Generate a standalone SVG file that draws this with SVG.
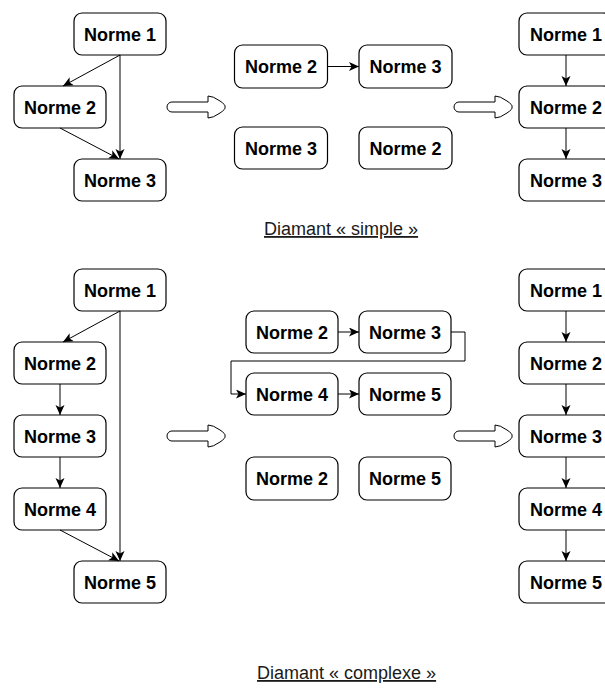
<svg xmlns="http://www.w3.org/2000/svg" width="605" height="689" viewBox="0 0 605 689">
<style>
.n rect{fill:#fff;stroke:#000;stroke-width:1.2}
.n text{font-family:"Liberation Sans",Arial,sans-serif;font-weight:bold;font-size:18px;fill:#000;text-anchor:middle}
.c path{fill:none;stroke:#000;stroke-width:1}
.big{fill:#fff;stroke:#000;stroke-width:1}
.cap{font-family:"Liberation Sans",Arial,sans-serif;font-size:18px;fill:#1a1a1a;text-decoration:underline}
</style>
<defs>
<marker id="a" markerUnits="userSpaceOnUse" markerWidth="12" markerHeight="12" refX="10" refY="4.5" orient="auto">
<path d="M0,0 L10,4.5 L0,9 L2.5,4.5 Z" fill="#000"/>
</marker>
<path id="ha" d="M172,-5 H208 V-11 Q213,-11 220,-6 Q226,-2 225,0 Q226,2 220,6 Q213,11 208,11 V5 H172 A5,5 0 0 1 172,-5 Z"/>
</defs>

<!-- Top section -->
<g id="t1" class="n"><rect x="74" y="13" width="92" height="42" rx="8"/><text x="120" y="40.5">Norme 1</text></g>
<g id="t2" class="n"><rect x="14" y="86" width="92" height="42" rx="8"/><text x="60" y="113.5">Norme 2</text></g>
<g id="t3" class="n"><rect x="74" y="159" width="92" height="42" rx="8"/><text x="120" y="186.5">Norme 3</text></g>

<g id="tm1" class="n"><rect x="234.5" y="45" width="93" height="43" rx="8"/><text x="281" y="73">Norme 2</text></g>
<g id="tm2" class="n"><rect x="359" y="45" width="93" height="43" rx="8"/><text x="405.5" y="73">Norme 3</text></g>
<g id="tm3" class="n"><rect x="234.5" y="127" width="93" height="42" rx="8"/><text x="281" y="154.5">Norme 3</text></g>
<g id="tm4" class="n"><rect x="359" y="127" width="93" height="42" rx="8"/><text x="405.5" y="154.5">Norme 2</text></g>

<g id="tr1" class="n"><rect x="519" y="13" width="92" height="42" rx="8"/><text x="566" y="40.5">Norme 1</text></g>
<g id="tr2" class="n"><rect x="519" y="86" width="92" height="42" rx="8"/><text x="566" y="113.5">Norme 2</text></g>
<g id="tr3" class="n"><rect x="519" y="159" width="92" height="42" rx="8"/><text x="566" y="186.5">Norme 3</text></g>

<g id="harrows" class="big">
<use href="#ha" transform="translate(0,107)"/>
<use href="#ha" transform="translate(287,107)"/>
<use href="#ha" transform="translate(0,436)"/>
<use href="#ha" transform="translate(287,436)"/>
</g>

<!-- Bottom section -->
<g id="b1" class="n"><rect x="74" y="269" width="92" height="42" rx="8"/><text x="120" y="296.5">Norme 1</text></g>
<g id="b2" class="n"><rect x="14" y="342" width="92" height="42" rx="8"/><text x="60" y="369.5">Norme 2</text></g>
<g id="b3" class="n"><rect x="14" y="415" width="92" height="42" rx="8"/><text x="60" y="442.5">Norme 3</text></g>
<g id="b4" class="n"><rect x="14" y="488" width="92" height="42" rx="8"/><text x="60" y="515.5">Norme 4</text></g>
<g id="b5" class="n"><rect x="74" y="561" width="92" height="42" rx="8"/><text x="120" y="588.5">Norme 5</text></g>

<g id="bm1" class="n"><rect x="246" y="311" width="92" height="42" rx="8"/><text x="292" y="338.5">Norme 2</text></g>
<g id="bm2" class="n"><rect x="359" y="311" width="92" height="42" rx="8"/><text x="405" y="338.5">Norme 3</text></g>
<g id="bm3" class="n"><rect x="246" y="373" width="92" height="42" rx="8"/><text x="292" y="400.5">Norme 4</text></g>
<g id="bm4" class="n"><rect x="359" y="373" width="92" height="42" rx="8"/><text x="405" y="400.5">Norme 5</text></g>
<g id="bm5" class="n"><rect x="246" y="457" width="92" height="43" rx="8"/><text x="292" y="485">Norme 2</text></g>
<g id="bm6" class="n"><rect x="359" y="457" width="92" height="43" rx="8"/><text x="405" y="485">Norme 5</text></g>

<g id="br1" class="n"><rect x="519" y="269" width="92" height="42" rx="8"/><text x="566" y="296.5">Norme 1</text></g>
<g id="br2" class="n"><rect x="519" y="342" width="92" height="42" rx="8"/><text x="566" y="369.5">Norme 2</text></g>
<g id="br3" class="n"><rect x="519" y="415" width="92" height="42" rx="8"/><text x="566" y="442.5">Norme 3</text></g>
<g id="br4" class="n"><rect x="519" y="488" width="92" height="42" rx="8"/><text x="566" y="515.5">Norme 4</text></g>
<g id="br5" class="n"><rect x="519" y="561" width="92" height="42" rx="8"/><text x="566" y="588.5">Norme 5</text></g>

<g id="connectors" class="c">
<path d="M120,55 L63,86" marker-end="url(#a)"/>
<path d="M120,55 V159" marker-end="url(#a)"/>
<path d="M60,128 L119,159" marker-end="url(#a)"/>
<path d="M327.5,66.5 H359" marker-end="url(#a)"/>
<path d="M566,55 V86" marker-end="url(#a)"/>
<path d="M566,128 V159" marker-end="url(#a)"/>

<path d="M120,311 L63,342" marker-end="url(#a)"/>
<path d="M120,311 V561" marker-end="url(#a)"/>
<path d="M60,384 V415" marker-end="url(#a)"/>
<path d="M60,457 V488" marker-end="url(#a)"/>
<path d="M60,530 L119,561" marker-end="url(#a)"/>
<path d="M338,332 H359" marker-end="url(#a)"/>
<path d="M451,332 H465 V361 H231 V394 H246" marker-end="url(#a)"/>
<path d="M338,394 H359" marker-end="url(#a)"/>
<path d="M566,311 V342" marker-end="url(#a)"/>
<path d="M566,384 V415" marker-end="url(#a)"/>
<path d="M566,457 V488" marker-end="url(#a)"/>
<path d="M566,530 V561" marker-end="url(#a)"/>
</g>

<text class="cap" x="264" y="235">Diamant « simple »</text>
<text class="cap" x="257" y="679">Diamant « complexe »</text>
</svg>
